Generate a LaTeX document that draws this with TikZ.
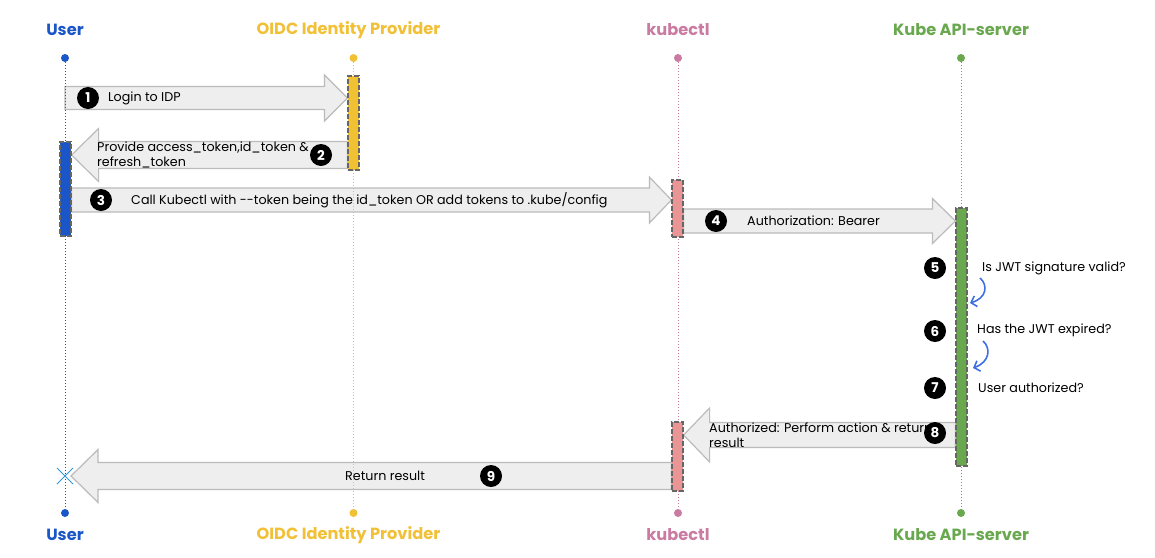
\documentclass[tikz,border=0pt]{standalone}
\usepackage{fontspec}
\setmainfont{Poppins}
\usetikzlibrary{arrows.meta,calc,shapes.misc}
\definecolor{cU}{HTML}{1A56C8}
\definecolor{cO}{HTML}{F2C037}
\definecolor{cObar}{HTML}{F0C233}
\definecolor{cK}{HTML}{C97BA2}
\definecolor{cKbar}{HTML}{E99595}
\definecolor{cA}{HTML}{6AA84F}
\definecolor{afill}{HTML}{EEEEEE}
\definecolor{aline}{HTML}{BBBBBB}
\definecolor{curv}{HTML}{3D6FE0}
\definecolor{xcol}{HTML}{3399DD}
\newcommand\barrow[5]{%
  \path[barrowsty] let \p1=(#1), \p2=(#2) in
   (\x1,{\y1+#3}) -- ({\x2-(#5)},{\y1+#3}) -- ({\x2-(#5)},{\y1+#4}) -- (\x2,\y1)
   -- ({\x2-(#5)},{\y1-#4}) -- ({\x2-(#5)},{\y1-#3}) -- (\x1,{\y1-#3}) -- cycle;}
\tikzset{
  barrowsty/.style={fill=afill,draw=aline,line width=1.2pt,line join=miter},
  hdr/.style={font=\bfseries\fontsize{16.2}{18}\selectfont},
  lbl/.style={font=\fontsize{12.7}{15}\selectfont,anchor=west,inner sep=0pt,align=left},
  num/.style={circle,fill=black,text=white,minimum size=22pt,inner sep=0pt,font=\bfseries\fontsize{13.5}{13.5}\selectfont},
  life/.style={dotted,line width=1pt},
  ldot/.style={circle,inner sep=0pt,minimum size=8pt},
  actbar/.style={rectangle,minimum width=11pt,inner sep=0pt,draw=black!60,line width=1.2pt,dash pattern=on 5pt off 2pt},
  curvy/.style={curv,line width=1.6pt,-{Straight Barb[length=5pt,width=11pt]}}
}
\begin{document}
\begin{tikzpicture}[x=1pt,y=-1pt]
\useasboundingbox (0,0) rectangle (1155,557);
% headers
\node[hdr,text=cU] (hU) at (65,30) {User};
\node[hdr,text=cO] (hO) at (348.5,30) {OIDC Identity Provider};
\node[hdr,text=cK] (hK) at (678,30) {kubectl};
\node[hdr,text=cA] (hA) at (961,30) {Kube API-server};
\node[hdr,text=cU] (fU) at (65,535) {User};
\node[hdr,text=cO] (fO) at (348.5,535) {OIDC Identity Provider};
\node[hdr,text=cK] (fK) at (678,535) {kubectl};
\node[hdr,text=cA] (fA) at (961,535) {Kube API-server};
% dots
\node[ldot,fill=cU] (tU) at (65,58) {};
\node[ldot,fill=cObar] (tO) at (353.5,58) {};
\node[ldot,fill=cK] (tK) at (678,58) {};
\node[ldot,fill=cA] (tA) at (961,58) {};
\node[ldot,fill=cU] (bU) at (65,513) {};
\node[ldot,fill=cObar] (bO) at (353.5,513) {};
\node[ldot,fill=cK] (bK) at (678,513) {};
\node[ldot,fill=cA] (bA) at (961,513) {};
% coordinates
\coordinate (s1) at (65,98);
\coordinate (y2) at (0,155);
\coordinate (y3) at (0,200);
\coordinate (y4) at (0,221);
\coordinate (y8) at (0,435);
\coordinate (e9) at (71,476);
\coordinate (y9) at (0,476);
% bars (positions for arrows)
\path (353.5,123) node[actbar,minimum height=94pt,draw=none] (barO) {}
      (65.5,189) node[actbar,minimum height=94pt,draw=none] (barU) {}
      (677.5,208.5) node[actbar,minimum height=57pt,draw=none] (barK1) {}
      (961.5,337) node[actbar,minimum height=258pt,draw=none] (barA) {}
      (677.5,456.5) node[actbar,minimum height=69pt,draw=none] (barK2) {};
% block arrows
\barrow{s1}{barO.west |- s1}{11.5pt}{23pt}{23pt}
\barrow{barO.west |- y2}{barU.east |- y2}{13.5pt}{26.5pt}{-27pt}
\barrow{barU.east |- y3}{barK1.west |- y3}{12pt}{23pt}{22pt}
\barrow{barK1.east |- y4}{barA.west |- y4}{12pt}{22.5pt}{23pt}
\barrow{barA.west |- y8}{barK2.east |- y8}{12.5pt}{27pt}{-26pt}
\barrow{barK2.west |- y9}{e9}{13.5pt}{26.5pt}{-27pt}
% lifelines
\draw[life,cU] (tU) -- (bU);
\draw[life,cObar] (tO) -- (bO);
\draw[life,cK] (tK) -- (bK);
\draw[life,cA] (tA) -- (bA);
% bars drawn
\node[actbar,fill=cObar,minimum height=94pt] at (barO) {};
\node[actbar,fill=cU,minimum height=94pt] at (barU) {};
\node[actbar,fill=cKbar,minimum height=57pt] at (barK1) {};
\node[actbar,fill=cA,minimum height=258pt] at (barA) {};
\node[actbar,fill=cKbar,minimum height=69pt] at (barK2) {};
% end cross
\node[cross out,draw=xcol,line width=1pt,minimum size=15pt,inner sep=0pt] (xU) at (65,476) {};
% labels
\node[lbl] (l1) at (108,98) {Login to IDP};
\node[lbl] (l2) at (97,155) {Provide access\_token,id\_token \&\\refresh\_token};
\node[lbl] (l3) at (131,200) {Call Kubectl with -{}-token being the id\_token OR add tokens to .kube/config};
\node[lbl] (l4) at (747,221) {Authorization: Bearer};
\node[lbl] (l5) at (982,268) {Is JWT signature valid?};
\node[lbl] (l6) at (977,330) {Has the JWT expired?};
\node[lbl] (l7) at (978,388) {User authorized?};
\node[lbl] (l8) at (709,435) {Authorized: Perform action \& return\\result};
\node[lbl] (l9) at (345,476) {Return result};
% numbers
\node[num] (n1) at (88,98) {1};
\node[num] (n2) at (321,155) {2};
\node[num] (n3) at (101,200) {3};
\node[num] (n4) at (716,221) {4};
\node[num] (n5) at (935,268) {5};
\node[num] (n6) at (935,331) {6};
\node[num] (n7) at (935,388) {7};
\node[num] (n8) at (935,433) {8};
\node[num] (n9) at (491,476) {9};
% curved arrows
\coordinate (c1s) at (980,278);
\coordinate (c1e) at (970,303);
\coordinate (c2s) at (983,341);
\coordinate (c2e) at (973,368);
\draw[curvy] (c1s) .. controls (988,285) and (987,298) .. (c1e);
\draw[curvy] (c2s) .. controls (991,348) and (990,362) .. (c2e);
\end{tikzpicture}
\end{document}
